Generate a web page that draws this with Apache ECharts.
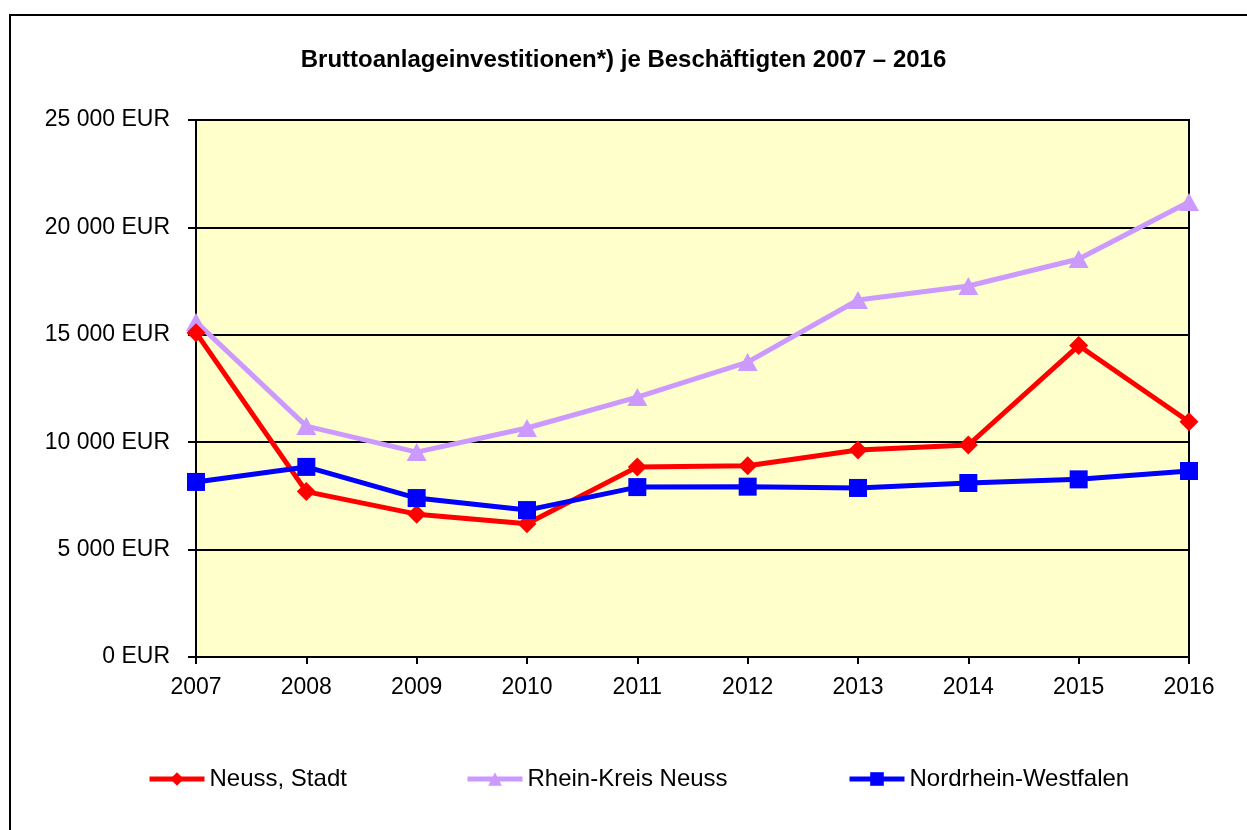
<!DOCTYPE html>
<html><head><meta charset="utf-8">
<script src="https://cdn.jsdelivr.net/npm/echarts@6/dist/echarts.min.js"></script>
<style>html,body{margin:0;padding:0;background:#fff}#c{width:1247px;height:830px}</style>
</head><body><div id="c"></div>
<script>
const years = ['2007','2008','2009','2010','2011','2012','2013','2014','2015','2016'];
const neussStadt = [15100, 7700, 6650, 6200, 8850, 8900, 9640, 9870, 14500, 10950];
const rheinKreis = [15600, 10750, 9540, 10660, 12100, 13730, 16620, 17270, 18530, 21180];
const nrw = [8150, 8850, 7400, 6840, 7910, 7930, 7870, 8100, 8270, 8660];
const seriesNames = ['Neuss, Stadt', 'Rhein-Kreis Neuss', 'Nordrhein-Westfalen'];
const titleText = 'Bruttoanlageinvestitionen*) je Beschäftigten 2007 – 2016';

const font = '"Liberation Sans", Arial, sans-serif';
const chart = echarts.init(document.getElementById('c'));
function fmt(v){ return String(v).replace(/\B(?=(\d{3})+(?!\d))/g,' ') + ' EUR'; }
const legendCommon = {top: 767, padding: 0, itemWidth: 55, itemHeight: 17, lineStyle:{width:5},
  textStyle:{fontFamily:font,fontSize:24,color:'#000'}};
chart.setOption({
  animation:false,
  title:{text:titleText,left:'center',top:43,textStyle:{fontFamily:font,fontSize:24,fontWeight:'bold',color:'#000'}},
  graphic:[{type:'rect',shape:{x:10,y:15,width:1240,height:830},style:{fill:'none',stroke:'#000',lineWidth:2},z:-1}],
  legend:[
    Object.assign({left:147,data:[seriesNames[0]]},legendCommon),
    Object.assign({left:465,data:[seriesNames[1]]},legendCommon),
    Object.assign({left:847,data:[seriesNames[2]]},legendCommon)
  ],
  grid:{left:196,top:120,right:58,bottom:173,show:true,backgroundColor:'#FFFFCC',borderColor:'#000',borderWidth:2},
  xAxis:{type:'category',data:years,boundaryGap:false,
    axisLine:{lineStyle:{color:'#000',width:2}},
    axisTick:{show:true,length:7,lineStyle:{color:'#000',width:2}},
    axisLabel:{fontFamily:font,fontSize:23,color:'#000',margin:19},
    splitLine:{show:false}},
  yAxis:{type:'value',min:0,max:25000,interval:5000,
    axisLine:{show:true,lineStyle:{color:'#000',width:2}},
    axisTick:{show:true,length:8,lineStyle:{color:'#000',width:2}},
    axisLabel:{fontFamily:font,fontSize:23,color:'#000',margin:26,formatter:fmt},
    splitLine:{show:true,lineStyle:{color:'#000',width:2}}},
  series:[
    {name:seriesNames[0],type:'line',data:neussStadt,symbol:'diamond',symbolSize:19,
      lineStyle:{color:'#FF0000',width:5},itemStyle:{color:'#FF0000'},z:3},
    {name:seriesNames[1],type:'line',data:rheinKreis,symbol:'triangle',symbolSize:[20,18],
      lineStyle:{color:'#CC99FF',width:5},itemStyle:{color:'#CC99FF'},z:2},
    {name:seriesNames[2],type:'line',data:nrw,symbol:'rect',symbolSize:18,
      lineStyle:{color:'#0000FF',width:5},itemStyle:{color:'#0000FF'},z:4}
  ]
});
</script></body></html>
